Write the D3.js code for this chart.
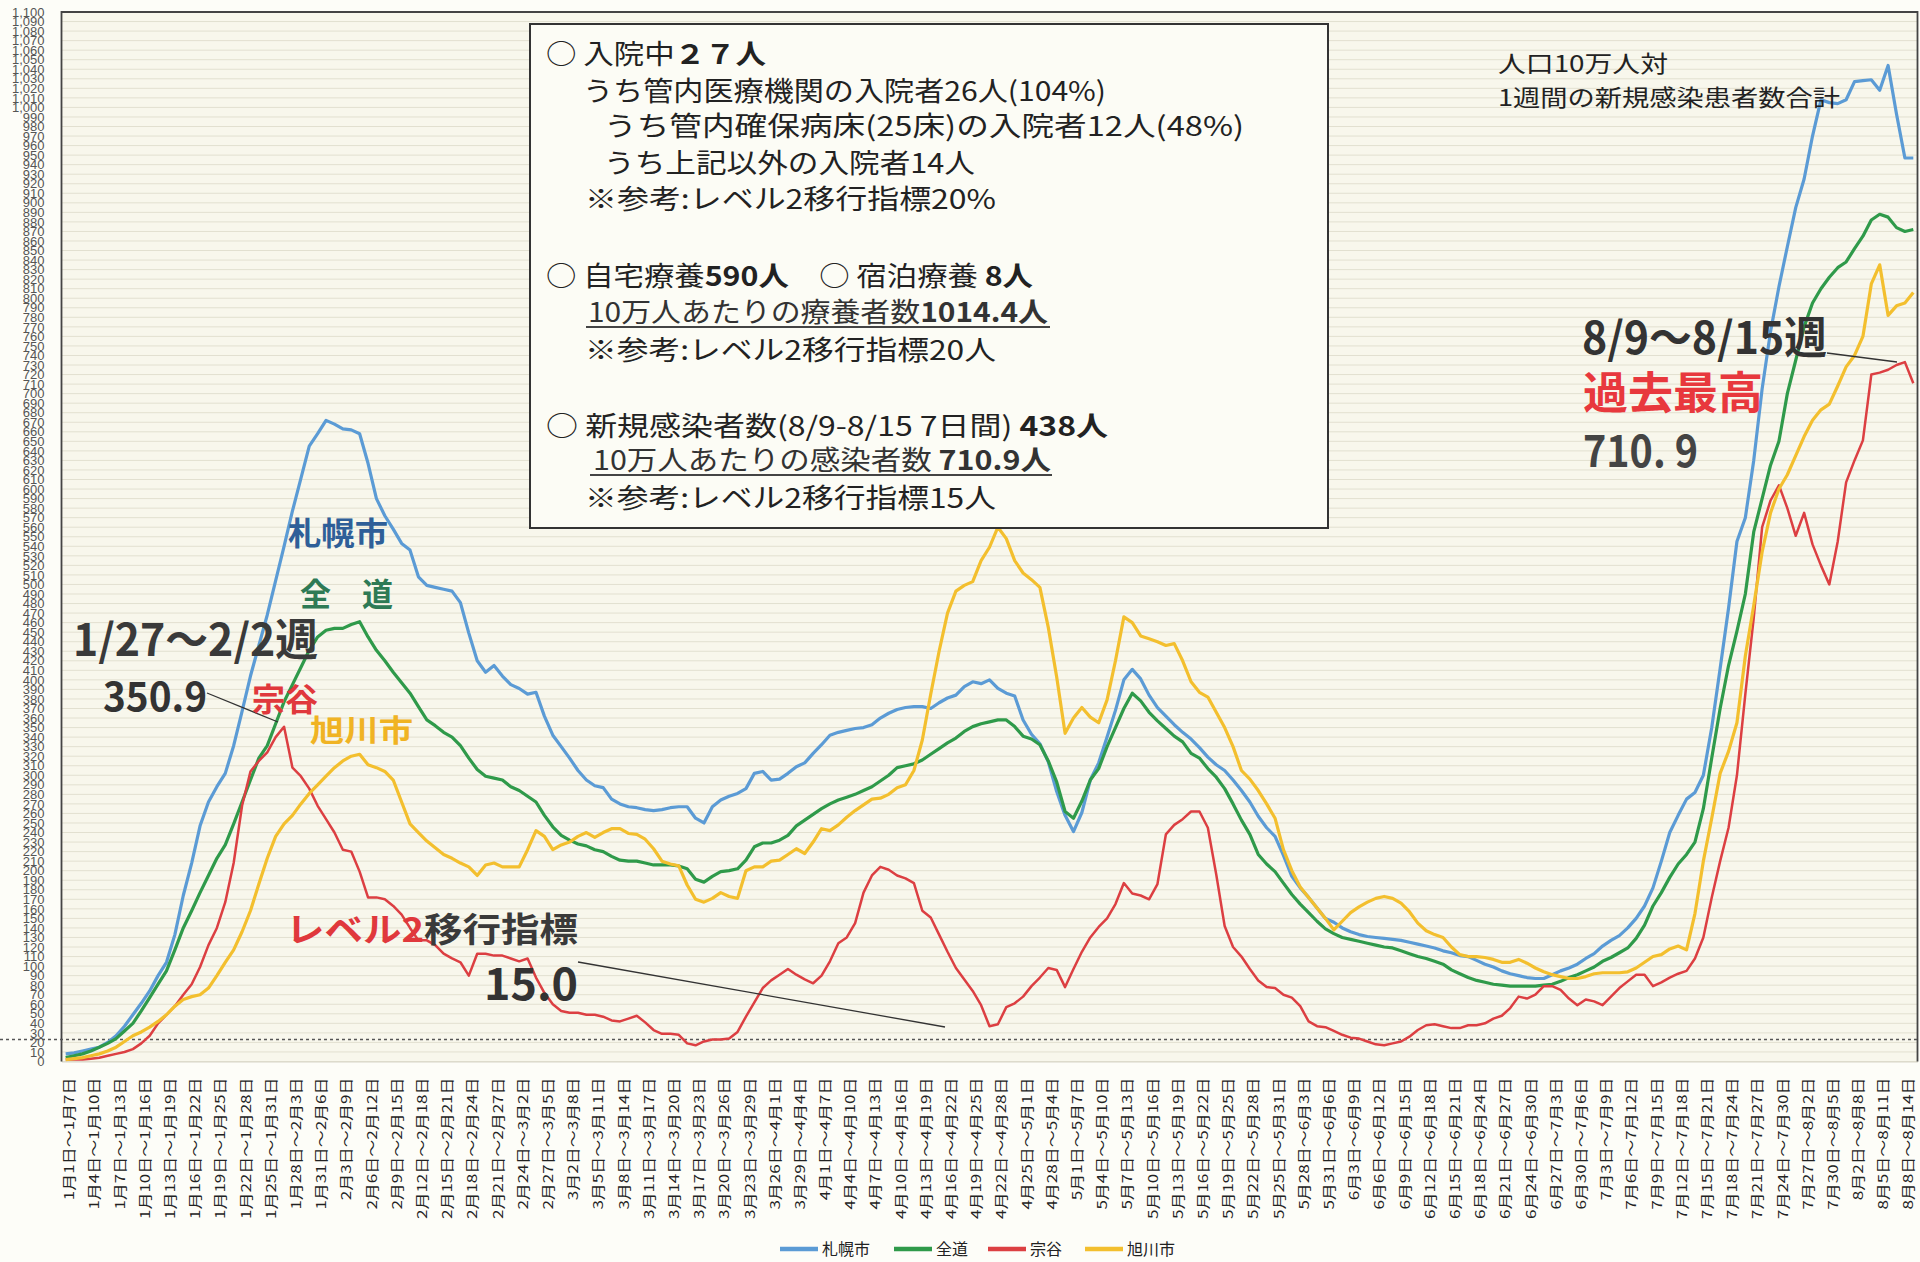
<!DOCTYPE html>
<html><head><meta charset="utf-8">
<script src="https://cdn.jsdelivr.net/npm/d3@7/dist/d3.min.js"></script>
<style>
html,body{margin:0;padding:0;background:#fdfdf8;}
svg{display:block;}
</style></head><body>
<svg id="chart" width="1920" height="1262"></svg>
<script>
// ---- data: 1-week totals per 100k, daily rolling, 1/1~1/7 .. 8/9~8/15 ----
const sapporo = [
8,9,11,13,15,20,27,37,49,61,74,90,104,
133,174,208,247,272,288,302,331,367,404,436,468,504,540,577,611,645,658,672,668,663,662,658,627,590,572,558,543,536,508,499,497,495,493,481,449,420,408,415,404,395,391,385,
387,362,342,330,318,305,295,289,287,275,270,267,266,264,263,264,266,267,267,255,250,267,274,278,281,286,302,304,295,296,302,309,313,323,332,342,345,347,349,350,353,360,365,369,371,372,372,370,376,381,384,393,398,396,400,391,
386,383,358,343,333,314,283,258,241,261,295,313,340,368,400,411,401,384,371,362,353,345,338,329,319,311,305,295,284,272,257,245,236,216,194,182,172,161,150,146,140,136,133,131,130,129,128,127,125,123,121,119,116,114,111,
110,106,102,99,95,92,90,88,87,87,91,95,98,102,108,113,121,127,132,140,150,163,182,210,240,258,275,282,300,350,412,475,545,570,630,705,765,812,854,895,925,970,1008,1005,1004,1008,1027,1028,1029,1018,1044,993,947,947
];
const zendo = [
4,6,8,11,15,19,24,32,40,53,67,81,95,
117,140,158,177,195,213,227,249,272,295,318,331,354,377,395,413,431,445,452,454,454,458,461,445,431,420,408,397,386,372,358,352,345,340,331,318,306,299,297,295,288,
284,278,272,258,246,237,232,228,226,222,220,215,211,210,210,208,206,206,206,205,202,191,188,194,199,200,202,211,225,229,229,232,237,247,253,259,265,270,274,277,280,284,288,294,300,308,310,312,316,322,328,334,339,346,351,354,356,358,
358,351,341,338,332,315,293,262,255,273,295,307,330,350,370,386,378,366,357,349,341,335,323,318,307,298,286,270,253,238,217,207,199,187,175,165,156,147,139,134,130,128,126,124,122,120,119,116,113,110,108,105,102,96,92,
88,85,83,81,80,79,79,79,79,80,81,84,88,91,95,99,105,109,114,119,129,143,163,177,193,207,217,230,265,318,370,415,451,490,555,590,625,650,700,735,770,795,810,822,832,838,852,865,882,888,885,874,870,872
];
const soya = [
2,2,2,3,4,6,8,10,13,19,27,
40,49,58,70,81,99,122,140,167,208,268,304,315,324,340,350.9,308,299,286,268,254,240,222,220,199,172,172,170,163,154,140,127,127,122,113,108,104,90,113,113,111,111,108,105,108,
88,72,60,53,51,51,49,49,47,43,42,45,48,41,33,29,29,28,19,17,21,23,23,24,31,47,62,77,85,91,97,91,86,82,90,105,124,130,145,177,195,204,201,195,192,187,158,151,133,115,98,86,74,59,37,39,
57,61,68,79,88,98,96,78,97,115,130,141,150,165,187,176,174,170,186,238,248,254,262,262,245,196,142,120,110,97,85,78,77,70,67,58,42,37,36,32,28,25,24,21,18,17,19,21,26,33,38,39,
37,35,35,38,38,40,45,48,56,68,66,70,79,79,75,66,59,65,63,59,68,77,84,91,91,79,83,88,92,95,108,130,172,210,245,300,385,465,560,588,604,580,551,575,542,520,500,545,607,630,651,720,722,725,730,733,710.9
];
const asahikawa = [
2,3,4,6,8,11,15,21,27,
31,36,42,49,58,65,68,70,77,90,104,117,136,158,186,213,236,249,258,270,281,290,299,308,315,320,322,311,308,304,295,272,249,240,231,224,217,213,208,204,195,206,208,204,204,
204,222,242,236,222,227,230,236,240,235,240,244,244,239,238,233,223,210,207,205,185,170,167,171,177,173,171,200,204,204,210,211,217,223,218,230,244,242,248,256,263,269,275,276,280,287,290,305,337,385,430,470,493,499,503,525,539,560,
548,525,512,505,497,455,403,344,360,371,361,355,379,420,466,460,446,443,440,436,438,420,398,387,382,366,350,330,305,296,284,270,255,222,200,183,172,161,150,138,147,156,162,167,171,173,171,166,157,145,137,133,
130,120,112,110,110,109,107,104,104,107,103,98,94,91,89,87,87,89,92,93,93,93,94,98,104,110,112,118,121,117,155,210,255,302,325,355,425,478,534,575,600,615,635,655,672,683,689,708,728,740,760,815,835,782,792,795,806
];
const seriesNames = ["札幌市","全道","宗谷","旭川市"];
const seriesColors = ["#5b9bd5","#2f9a4a","#dc3f42","#f3bf2e"];
const xTickLabels = [
"1月1日～1月7日","1月4日～1月10日","1月7日～1月13日","1月10日～1月16日","1月13日～1月19日","1月16日～1月22日","1月19日～1月25日","1月22日～1月28日","1月25日～1月31日","1月28日～2月3日","1月31日～2月6日","2月3日～2月9日","2月6日～2月12日","2月9日～2月15日","2月12日～2月18日","2月15日～2月21日","2月18日～2月24日","2月21日～2月27日","2月24日～3月2日","2月27日～3月5日","3月2日～3月8日","3月5日～3月11日","3月8日～3月14日","3月11日～3月17日","3月14日～3月20日","3月17日～3月23日","3月20日～3月26日","3月23日～3月29日","3月26日～4月1日","3月29日～4月4日","4月1日～4月7日","4月4日～4月10日","4月7日～4月13日","4月10日～4月16日","4月13日～4月19日","4月16日～4月22日","4月19日～4月25日","4月22日～4月28日","4月25日～5月1日","4月28日～5月4日","5月1日～5月7日","5月4日～5月10日","5月7日～5月13日","5月10日～5月16日","5月13日～5月19日","5月16日～5月22日","5月19日～5月25日","5月22日～5月28日","5月25日～5月31日","5月28日～6月3日","5月31日～6月6日","6月3日～6月9日","6月6日～6月12日","6月9日～6月15日","6月12日～6月18日","6月15日～6月21日","6月18日～6月24日","6月21日～6月27日","6月24日～6月30日","6月27日～7月3日","6月30日～7月6日","7月3日～7月9日","7月6日～7月12日","7月9日～7月15日","7月12日～7月18日","7月15日～7月21日","7月18日～7月24日","7月21日～7月27日","7月24日～7月30日","7月27日～8月2日","7月30日～8月5日","8月2日～8月8日","8月5日～8月11日","8月8日～8月14日"
];
const tickEvery = 3;
const yMax = 1100, yStep = 10;
const guideValue = 23;   // dotted reference line (level-2 indicator)

// ---- layout ----
const svg = d3.select("#chart");
const P = {left:61.5, right:1917.5, top:12, bottom:1061.5};
const JP = "'Noto Sans CJK JP','Noto Sans',sans-serif";
const x = d3.scaleBand().domain(d3.range(sapporo.length)).range([P.left, P.right]);
const cx = i => x(i) + x.bandwidth()/2;
const y = d3.scaleLinear().domain([0, yMax]).range([P.bottom, P.top]);
const yTicks = d3.range(0, yMax + 1, yStep);

// plot background + grid
svg.append("rect").attr("x",P.left).attr("y",P.top).attr("width",P.right-P.left).attr("height",P.bottom-P.top).attr("fill","#f8f7ec");
svg.append("g").selectAll("line").data(yTicks).join("line")
  .attr("x1",P.left).attr("x2",P.right).attr("y1",d=>y(d)).attr("y2",d=>y(d))
  .attr("stroke","#e2e0d0").attr("stroke-width",1);

// y axis labels
const yAxis = svg.append("g").attr("transform",`translate(${P.left},0)`)
  .call(d3.axisLeft(y).tickValues(yTicks).tickSize(0).tickPadding(17));
yAxis.select(".domain").remove();
yAxis.selectAll("text").attr("font-family","'Liberation Sans',Arial,sans-serif").attr("font-size",13).attr("fill","#555");

// x axis labels
const xAxis = svg.append("g").attr("transform",`translate(0,${P.bottom})`)
  .call(d3.axisBottom(x).tickValues(d3.range(0, sapporo.length, tickEvery).filter(d=>d/tickEvery < xTickLabels.length))
     .tickFormat(d => xTickLabels[d/tickEvery]).tickSize(0));
xAxis.select(".domain").attr("stroke","#d8d6c8");
xAxis.selectAll("text")
  .attr("font-family",JP).attr("font-size",17).attr("fill","#222")
  .attr("text-anchor","end").attr("y",0).attr("x",0).attr("dy","0.42em")
  .attr("transform","translate(3,16) rotate(-90) scale(1,0.78)");

// frame
svg.append("path").attr("d",`M${P.left},${P.bottom}V${P.top}H${P.right}V${P.bottom}`)
  .attr("fill","none").attr("stroke","#444").attr("stroke-width",1.8);

// guide dotted line across page
svg.append("line").attr("x1",0).attr("x2",1920).attr("y1",y(guideValue)).attr("y2",y(guideValue))
  .attr("stroke","#555").attr("stroke-width",1.4).attr("stroke-dasharray","3,3");

// series lines
const allSeries = [sapporo, zendo, soya, asahikawa];
const line = d3.line().x((d,i)=>cx(i)).y(d=>y(d));
svg.append("g").selectAll("path").data(allSeries).join("path")
  .attr("d", d=>line(d)).attr("fill","none")
  .attr("stroke",(d,i)=>seriesColors[i])
  .attr("stroke-width",(d,i)=> i===2 ? 2.5 : 3.2)
  .attr("stroke-linejoin","round");

// ---- annotations ----
function txt(t, xx, yy, size, color, opts={}){
  const e = svg.append("text").attr("x",xx).attr("y",yy).attr("font-family",JP)
    .attr("font-size",size).attr("fill",color).attr("font-weight",opts.bold?700:400);
  if (opts.len) e.attr("textLength",opts.len).attr("lengthAdjust","spacingAndGlyphs");
  if (Array.isArray(t)) {
    t.forEach(p => e.append("tspan").text(p.t).attr("font-weight",p.b?700:(opts.bold?700:400)).attr("fill",p.c||color));
  } else e.text(t);
  return e;
}
function pline(x1,y1,x2,y2){
  svg.append("line").attr("x1",x1).attr("y1",y1).attr("x2",x2).attr("y2",y2).attr("stroke","#333").attr("stroke-width",1.3);
}
txt("札幌市",288,545,32,"#2f5f98",{bold:true,len:100});
txt("全　道",300,606,32,"#2e7a55",{bold:true,len:93});
txt("1/27～2/2週",73,656,44,"#3a3a3a",{bold:true,len:245});
txt("350.9",103,711,40,"#333",{bold:true,len:104});
pline(207,693,278,722);
txt("宗谷",252,711,32,"#e0383c",{bold:true,len:66});
txt("旭川市",310,741,30,"#f0b323",{bold:true,len:103});
txt([{t:"レベル2",c:"#e0383c"},{t:"移行指標",c:"#3a3a3a"}],286,942,34,"#3a3a3a",{bold:true,len:292});
txt("15.0",484,1000,44,"#333",{bold:true,len:94});
pline(578,962,945,1027);
txt("8/9～8/15週",1582,354,44,"#333",{bold:true,len:245});
pline(1827,353,1897,362);
txt("過去最高",1583,409,44,"#e8383d",{bold:true,len:180});
txt("710. 9",1583,467,44,"#444",{bold:true,len:115});
txt("人口10万人対",1498,72,23,"#222",{len:170});
txt("1週間の新規感染患者数合計",1498,106,23,"#222",{len:342});

// info box
svg.append("rect").attr("x",530).attr("y",24).attr("width",798).attr("height",504)
  .attr("fill","#fcfcf5").attr("stroke","#333").attr("stroke-width",2);
const F = 27;
txt([{t:"○ 入院中"},{t:"２７人",b:true}],546,64,F,"#222",{len:220});
txt("うち管内医療機関の入院者26人(104%)",583,101,F,"#222",{len:523});
txt("うち管内確保病床(25床)の入院者12人(48%)",604,136,F,"#222",{len:640});
txt("うち上記以外の入院者14人",604,173,F,"#222",{len:371});
txt("※参考:レベル2移行指標20%",585,209,F,"#222",{len:411});
txt([{t:"○ 自宅療養"},{t:"590人",b:true},{t:"　○ 宿泊療養 "},{t:"8人",b:true}],546,286,F,"#222",{len:487});
txt([{t:"10万人あたりの療養者数"},{t:"1014.4人",b:true}],588,322,F,"#333",{len:460});
svg.append("line").attr("x1",586).attr("x2",1050).attr("y1",327).attr("y2",327).attr("stroke","#444").attr("stroke-width",2);
txt("※参考:レベル2移行指標20人",585,360,F,"#222",{len:411});
txt([{t:"○ 新規感染者数(8/9-8/15 7日間) "},{t:"438人",b:true}],546,436,F,"#222",{len:562});
txt([{t:"10万人あたりの感染者数 "},{t:"710.9人",b:true}],593,470,F,"#333",{len:458});
svg.append("line").attr("x1",590).attr("x2",1052).attr("y1",475).attr("y2",475).attr("stroke","#444").attr("stroke-width",2);
txt("※参考:レベル2移行指標15人",585,508,F,"#222",{len:411});

// legend
const lg = svg.append("g").attr("transform","translate(780,1249)");
const legendX = [0,114,208,305];
seriesNames.forEach((n,i)=>{
  const g = lg.append("g").attr("transform",`translate(${legendX[i]},0)`);
  g.append("line").attr("x1",0).attr("x2",38).attr("stroke",seriesColors[i]).attr("stroke-width",4.5);
  g.append("text").attr("x",42).attr("y",0).attr("dy","0.35em").attr("font-family",JP).attr("font-size",16).attr("fill","#222").text(n);
});
</script>
</body></html>
